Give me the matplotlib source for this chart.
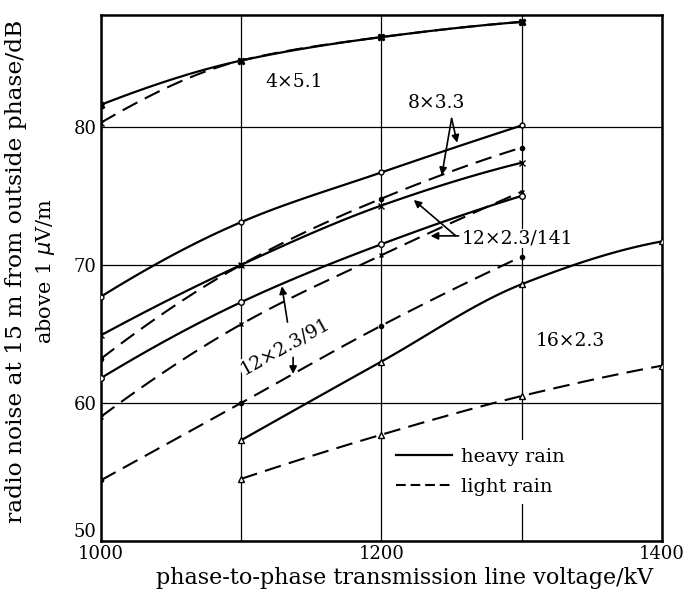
import numpy as np
import matplotlib
matplotlib.use("Agg")
import matplotlib.pyplot as plt

plt.rcParams["font.family"] = ["DejaVu Serif"]
plt.rcParams["lines.scale_dashes"] = False

# Voltages at which the measurements were taken (kV)
v_low = [1000, 1100, 1200, 1300]
v_high = [1100, 1200, 1300, 1400]

# Radio noise (dB above 1 uV/m) for each bundle, heavy and light rain
b4x51_heavy = [81.6, 84.8, 86.5, 87.6]
b4x51_light = [80.3, 84.8, 86.5, 87.6]
b8x33_heavy = [67.7, 73.1, 76.7, 80.1]
b8x33_light = [63.2, 70.0, 74.8, 78.5]
b12_141_heavy = [64.9, 70.0, 74.3, 77.4]
b12_141_light = [59.0, 65.7, 70.7, 75.3]
b12_91_heavy = [61.8, 67.3, 71.5, 75.0]
b12_91_light = [54.4, 60.0, 65.6, 70.6]
b16x23_heavy = [57.3, 63.0, 68.6, 71.7]
b16x23_light = [54.5, 57.7, 60.5, 62.7]

x_ticks = [1000, 1100, 1200, 1300, 1400]
x_ticklabels = ["1000", "", "1200", "", "1400"]
y_ticks = [50, 60, 70, 80]


def smooth(x, y, n=100):
    """Monotone cubic (PCHIP) curve through the measured points."""
    x = np.asarray(x, float)
    y = np.asarray(y, float)
    h = np.diff(x)
    d = np.diff(y) / h
    m = np.zeros_like(y)
    for k in range(1, len(x) - 1):
        if d[k - 1] * d[k] > 0:
            w1 = 2 * h[k] + h[k - 1]
            w2 = h[k] + 2 * h[k - 1]
            m[k] = (w1 + w2) / (w1 / d[k - 1] + w2 / d[k])
    m[0] = ((2 * h[0] + h[1]) * d[0] - h[0] * d[1]) / (h[0] + h[1])
    if np.sign(m[0]) != np.sign(d[0]):
        m[0] = 0
    m[-1] = ((2 * h[-1] + h[-2]) * d[-1] - h[-1] * d[-2]) / (h[-1] + h[-2])
    if np.sign(m[-1]) != np.sign(d[-1]):
        m[-1] = 0
    xs = np.linspace(x[0], x[-1], n)
    idx = np.clip(np.searchsorted(x, xs) - 1, 0, len(x) - 2)
    t = (xs - x[idx]) / h[idx]
    h00 = 2 * t**3 - 3 * t**2 + 1
    h10 = t**3 - 2 * t**2 + t
    h01 = -2 * t**3 + 3 * t**2
    h11 = t**3 - t**2
    ys = h00 * y[idx] + h10 * h[idx] * m[idx] + h01 * y[idx + 1] + h11 * h[idx] * m[idx + 1]
    return xs, ys


fig = plt.figure(figsize=(6.85, 5.95), dpi=100)
ax = fig.add_axes([0.1474, 0.0908, 0.8190, 0.8840])

SOLID = dict(color="black", lw=1.6, linestyle="-")
DASH = dict(color="black", lw=1.5, linestyle=(0, (12, 6)))


def curve(x, y, style, marker, mfc="black", ms=4):
    xs, ys = smooth(x, y)
    ax.plot(xs, ys, **style, zorder=3)
    ax.plot(x, y, linestyle="none", marker=marker, color="black",
            mfc=mfc, ms=ms, mew=1.0, zorder=4)


curve(v_low, b4x51_heavy, SOLID, "X", ms=5)
curve(v_low, b4x51_light, DASH, "x", ms=4)
curve(v_low, b8x33_heavy, SOLID, "o", mfc="white", ms=3.5)
curve(v_low, b8x33_light, DASH, "o", ms=3)
curve(v_low, b12_141_heavy, SOLID, "x", ms=4)
curve(v_low, b12_141_light, DASH, "x", ms=3.5)
curve(v_low, b12_91_heavy, SOLID, "o", mfc="white", ms=4)
curve(v_low, b12_91_light, DASH, "o", ms=3)
curve(v_high, b16x23_heavy, SOLID, "^", mfc="white", ms=5)
curve(v_high, b16x23_light, DASH, "^", mfc="white", ms=5)

ax.set_xlim(1000, 1400)
ax.set_ylim(50, 88.1)
ax.set_xticks(x_ticks)
ax.set_xticklabels(x_ticklabels)
ax.set_yticks(y_ticks)
ax.tick_params(length=0, labelsize=13, pad=3)
ax.yaxis.get_major_ticks()[0].label1.set_va("bottom")
ax.grid(True, color="black", lw=0.9)
ax.set_axisbelow(True)
for sp in ax.spines.values():
    sp.set_linewidth(1.8)

fig.text(405 / 685, 1 - 578 / 595, "phase-to-phase transmission line voltage/kV",
         fontsize=16, ha="center", va="center")
fig.text(16 / 685, 1 - 271 / 595, "radio noise at 15 m from outside phase/dB",
         fontsize=16.8, rotation=90, ha="center", va="center")
fig.text(46 / 685, 1 - 271 / 595, "above 1 $\\mu$V/m",
         fontsize=15, rotation=90, ha="center", va="center")

lab = dict(fontsize=13.5, ha="center", va="center", zorder=5)
white = dict(facecolor="white", edgecolor="none", pad=0.5)
ax.text(1138, 83.25, "4×5.1", **lab)
ax.text(1239, 81.7, "8×3.3", **lab)
ax.text(1297, 71.9, "12×2.3/141", bbox=white, **lab)
ax.text(1335, 64.5, "16×2.3", **lab)
ax.text(1131, 64.1, "12×2.3/91", rotation=29, rotation_mode="anchor",
        bbox=white, **lab)

arrow = dict(arrowstyle="-|>", color="black", lw=1.2, mutation_scale=11,
             shrinkA=0, shrinkB=0)
ax.annotate("", xy=(1254, 78.85), xytext=(1250, 80.6), arrowprops=arrow, zorder=6)
ax.annotate("", xy=(1243, 76.5), xytext=(1250, 80.6), arrowprops=arrow, zorder=6)
ax.annotate("", xy=(1223, 74.7), xytext=(1253, 72.1), arrowprops=arrow, zorder=6)
ax.annotate("", xy=(1235, 72.1), xytext=(1255, 72.1), arrowprops=arrow, zorder=6)
ax.annotate("", xy=(1129, 68.45), xytext=(1133, 65.85), arrowprops=arrow, zorder=6)
ax.annotate("", xy=(1137, 62.1), xytext=(1137, 63.3), arrowprops=arrow, zorder=6)

h1, = ax.plot([], [], **SOLID, label="heavy rain")
h2, = ax.plot([], [], color="black", lw=1.5, linestyle=(0, (7, 3.5)), label="light rain")
leg = ax.legend(handles=[h1, h2], loc="center left",
                bbox_to_anchor=(1204.5, 55.0), bbox_transform=ax.transData,
                borderaxespad=0, fontsize=14, frameon=True, fancybox=False,
                handlelength=2.9, handletextpad=0.45, labelspacing=0.6,
                borderpad=0.4)
leg.get_frame().set_edgecolor("none")
leg.get_frame().set_facecolor("white")
leg.get_frame().set_alpha(1)
leg.set_zorder(2.5)

fig.savefig("out.png", dpi=100)
